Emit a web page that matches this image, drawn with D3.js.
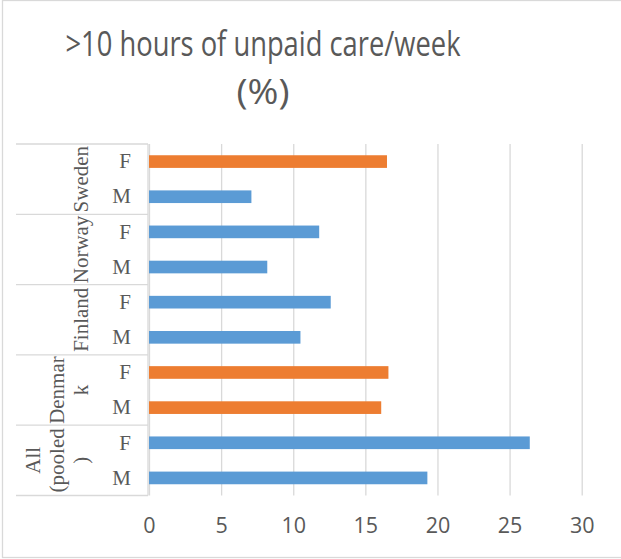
<!DOCTYPE html>
<html>
<head>
<meta charset="utf-8">
<script src="https://cdn.jsdelivr.net/npm/d3@7"></script>
<style>
  body { margin: 0; background: #fff; }
</style>
</head>
<body>
<div id="chart"></div>
<script>
// chart data
var groups = ["All (pooled)", "Denmark", "Finland", "Norway", "Sweden"];
var groupLabelLines = [["All", "(pooled", ")"], ["Denmar", "k"], ["Finland"], ["Norway"], ["Sweden"]];
var sexes = ["M", "F"];
var valuesM = [19.3, 16.1, 10.5, 8.2, 7.1];
var valuesF = [26.4, 16.6, 12.6, 11.8, 16.5];
// bars drawn in the second (orange) colour
var highlightM = [false, true, false, false, false];
var highlightF = [false, true, false, false, true];
var xTicks = [0, 5, 10, 15, 20, 25, 30];
var titleLines = [">10 hours of unpaid care/week", "(%)"];

var svgWidth = 621;
var svgHeight = 559;

var plot = { left: 149, right: 581.7, top: 144, bottom: 495.5 };

var svg = d3.select("#chart")
  .append("svg")
  .attr("width", svgWidth)
  .attr("height", svgHeight);

// outer chart border
svg.append("rect")
  .attr("x", 2.5)
  .attr("y", 0.5)
  .attr("width", svgWidth + 10)
  .attr("height", 557)
  .attr("fill", "#fff")
  .attr("stroke", "#d9d9d9")
  .attr("stroke-width", 1.3);

// rows from top to bottom: Sweden F, Sweden M, ... All M
var rows = [];
for (var g = groups.length - 1; g >= 0; g--) {
  rows.push({ key: groups[g] + "|F", group: g, sex: "F", value: valuesF[g], hi: highlightF[g] });
  rows.push({ key: groups[g] + "|M", group: g, sex: "M", value: valuesM[g], hi: highlightM[g] });
}

var xScale = d3.scaleLinear()
  .domain([0, 30])
  .range([plot.left, plot.right]);

var yScale = d3.scaleBand()
  .domain(rows.map(d => d.key))
  .range([plot.top, plot.bottom])
  .paddingInner(0.64)
  .paddingOuter(0.32);

var colour = d3.scaleOrdinal()
  .domain([false, true])
  .range(["#5b9bd5", "#ed7d31"]);

// vertical gridlines
svg.append("g")
  .attr("transform", `translate(0, ${plot.bottom})`)
  .call(d3.axisBottom(xScale).tickValues(xTicks).tickSize(-(plot.bottom - plot.top)).tickFormat(""))
  .call(g => g.select(".domain").remove())
  .call(g => g.selectAll("line").attr("stroke", "#d9d9d9").attr("stroke-width", 1.3));

// x tick labels
svg.append("g")
  .attr("transform", `translate(0, ${plot.bottom})`)
  .call(d3.axisBottom(xScale).tickValues(xTicks).tickSize(0).tickPadding(22))
  .call(g => g.select(".domain").remove())
  .call(g => g.selectAll("text")
    .attr("font-family", "'Open Sans', sans-serif")
    .attr("font-size", 21.5)
    .attr("fill", "#595959"));

// bars
svg.append("g")
  .selectAll("rect")
  .data(rows)
  .enter().append("rect")
  .attr("x", xScale(0))
  .attr("y", d => yScale(d.key))
  .attr("width", d => xScale(d.value) - xScale(0))
  .attr("height", yScale.bandwidth())
  .attr("fill", d => colour(d.hi));

// M / F labels
svg.append("g")
  .attr("transform", `translate(${plot.left}, 0)`)
  .call(d3.axisLeft(yScale).tickSize(0).tickPadding(18).tickFormat(k => k.split("|")[1]))
  .call(g => g.select(".domain").remove())
  .call(g => g.selectAll("text")
    .attr("font-family", "'Liberation Serif', 'Times New Roman', serif")
    .attr("font-size", 21)
    .attr("fill", "#595959"));

// group boxes on the category axis
var gap = (yScale.step() - yScale.bandwidth()) / 2;
var boundaries = [plot.top];
groups.slice().reverse().forEach(function(name) {
  boundaries.push(yScale(name + "|M") + yScale.bandwidth() + gap);
});

svg.append("g")
  .selectAll("line")
  .data(boundaries)
  .enter().append("line")
  .attr("x1", 16)
  .attr("x2", plot.left - 1)
  .attr("y1", d => d)
  .attr("y2", d => d)
  .attr("stroke", "#d9d9d9")
  .attr("stroke-width", 1.3);

svg.append("line")
  .attr("x1", plot.left - 1)
  .attr("x2", plot.left - 1)
  .attr("y1", plot.top)
  .attr("y2", plot.bottom)
  .attr("stroke", "#d9d9d9")
  .attr("stroke-width", 1.3);

// rotated country labels
groups.forEach(function(name, g) {
  var top = yScale(name + "|F") - gap;
  var bottom = yScale(name + "|M") + yScale.bandwidth() + gap;
  var cy = (top + bottom) / 2;
  var lines = groupLabelLines[g];
  lines.forEach(function(line, i) {
    var bx = 88 - (lines.length - 1 - i) * 24;
    svg.append("text")
      .attr("transform", `translate(${bx}, ${cy}) rotate(-90)`)
      .attr("text-anchor", "middle")
      .attr("font-family", "'Liberation Serif', 'Times New Roman', serif")
      .attr("font-size", 21)
      .attr("fill", "#595959")
      .text(line);
  });
});

// title
var titleWidths = [395, 53];
var titleBase = [56, 104];
titleLines.forEach(function(line, i) {
  svg.append("text")
    .attr("x", 263 - titleWidths[i] / 2)
    .attr("y", titleBase[i])
    .attr("font-family", "'Open Sans', sans-serif")
    .attr("font-size", 34)
    .attr("fill", "#595959")
    .attr("textLength", titleWidths[i])
    .attr("lengthAdjust", "spacingAndGlyphs")
    .text(line);
});
</script>
</body>
</html>
